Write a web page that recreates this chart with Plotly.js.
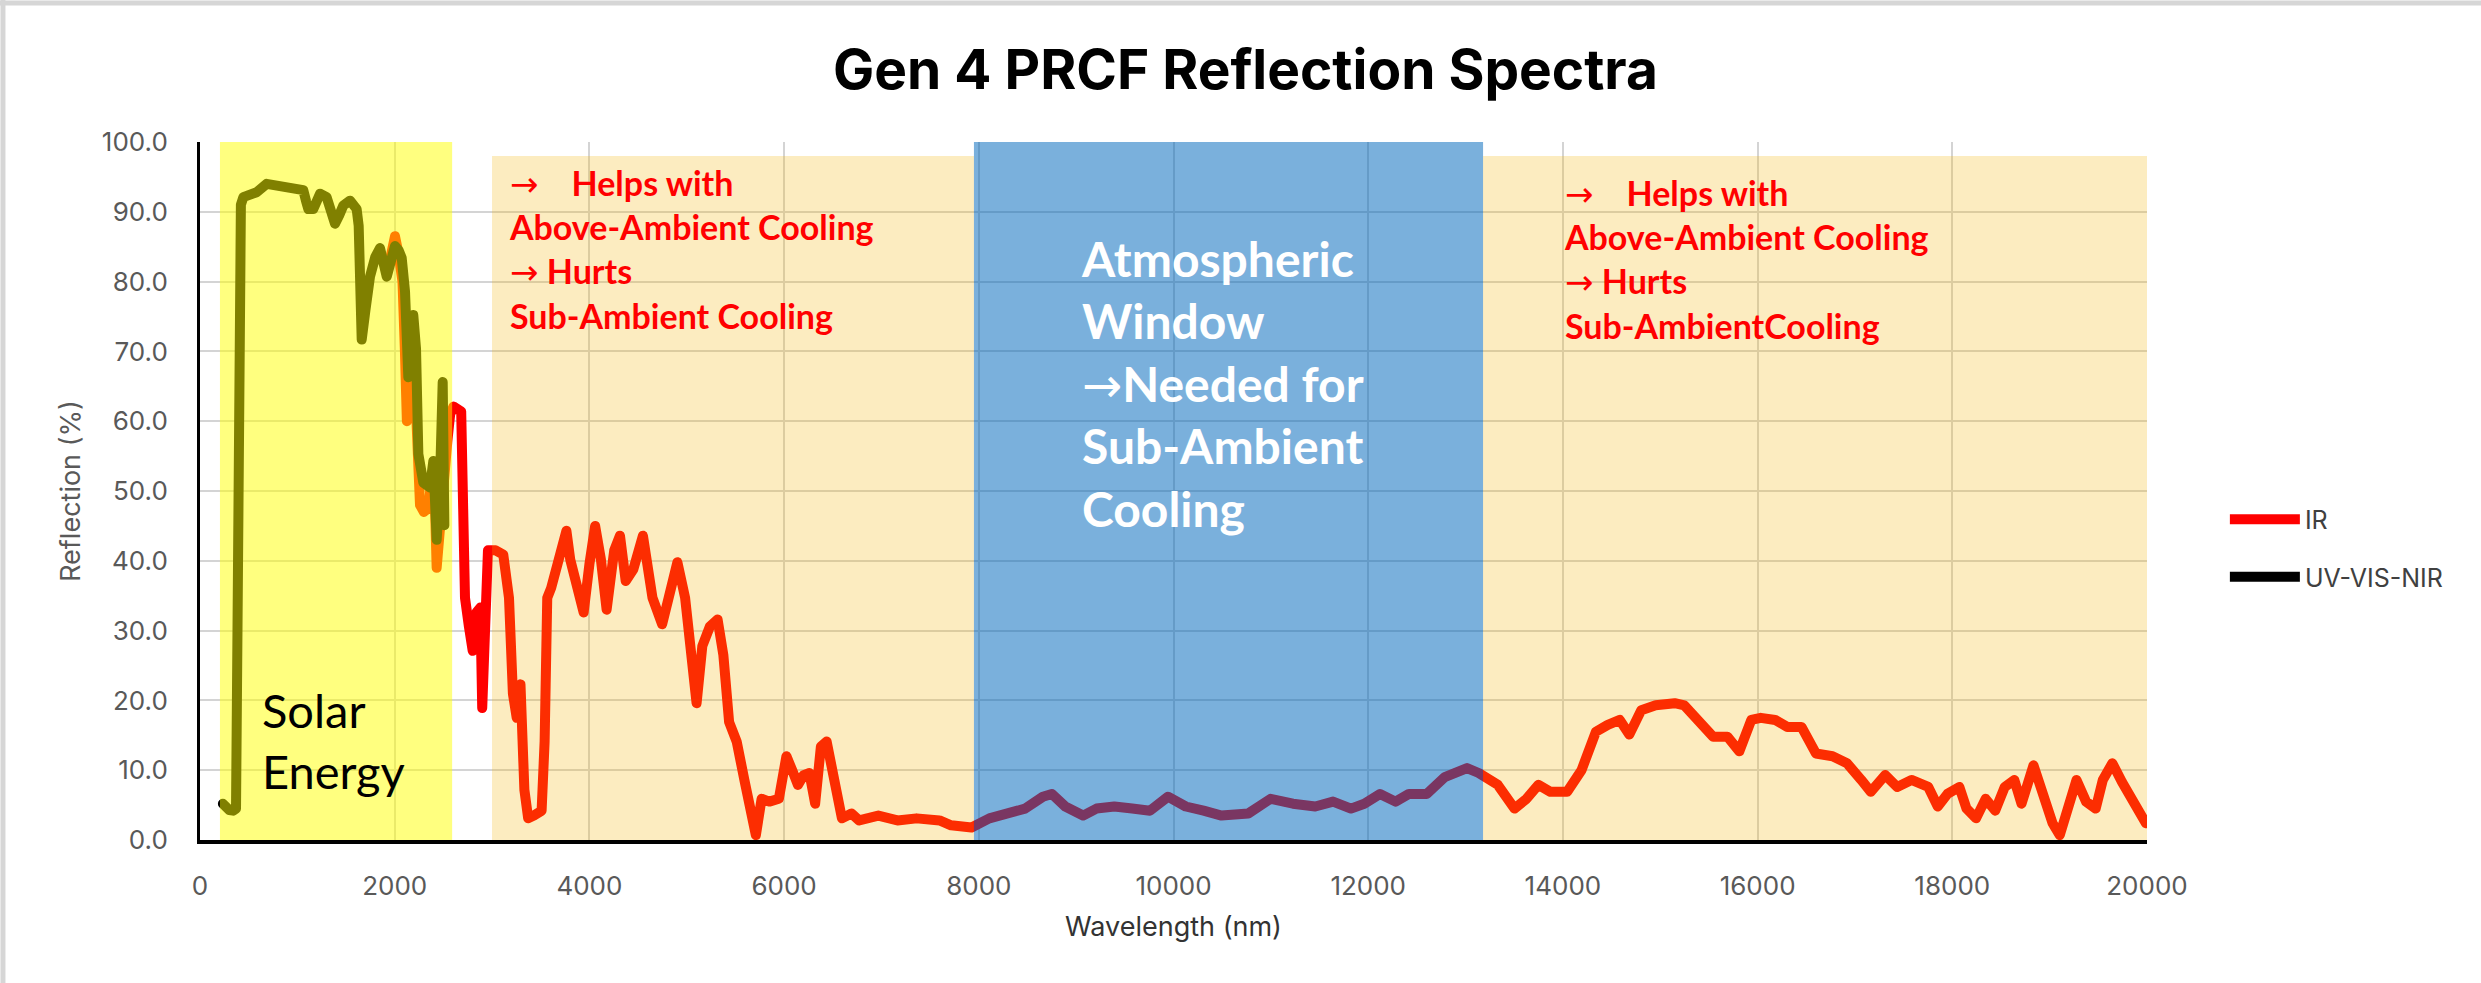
<!DOCTYPE html>
<html>
<head>
<meta charset="utf-8">
<script src="https://cdn.plot.ly/plotly-3.0.1.min.js"></script>
<style>
html,body{margin:0;padding:0;background:#ffffff;}
#chart{width:2481px;height:983px;}
#chart .scatterlayer .js-line{stroke-linejoin:round;stroke-linecap:round;}
</style>
</head>
<body>
<div id="chart"></div>
<script>
// ---------- DATA ----------
const seriesNames = ['IR', 'UV-VIS-NIR'];

const uvWavelength = [235, 260, 300, 340, 370, 385, 395, 405, 420, 445, 520, 582, 685, 822, 959, 1061, 1090, 1113, 1164, 1200, 1233, 1301, 1340, 1387, 1430, 1472, 1541, 1609, 1630, 1650, 1661, 1700, 1746, 1800, 1849, 1918, 1960, 2003, 2040, 2072, 2106, 2140, 2170, 2191, 2219, 2243, 2294, 2362, 2397, 2431, 2465, 2493, 2510];
const uvReflection = [5.2, 4.6, 4.3, 4.2, 4.5, 30, 70, 88, 91, 92.1, 92.5, 92.8, 94, 93.7, 93.4, 93.1, 91.5, 90.4, 90.4, 91.8, 92.6, 92.1, 90, 88.3, 89.5, 90.9, 91.6, 90.4, 88, 78, 71.7, 76, 80.7, 83.5, 84.8, 80.7, 82.5, 85.1, 84.5, 83.4, 78.6, 66.3, 70, 75.2, 70.4, 55.3, 51.2, 50.5, 54.3, 43, 51.2, 65.6, 45.1];

const irWavelength = [1950, 2003, 2040, 2080, 2105, 2125, 2150, 2180, 2200, 2225, 2260, 2300, 2345, 2380, 2410, 2431, 2460, 2500, 2540, 2570, 2604, 2683, 2722, 2762, 2801, 2840, 2880, 2899, 2927, 2958,
  3037, 3115, 3174, 3214, 3253, 3292, 3332, 3371, 3430, 3509, 3540, 3567, 3607, 3705, 3764, 3803, 3882, 3941, 4000, 4059, 4118, 4177, 4255, 4314, 4373, 4452, 4550, 4648, 4747, 4806, 4904, 4983, 5042, 5101, 5160, 5238, 5317, 5376, 5435, 5513, 5592, 5671, 5710, 5769, 5848, 5946, 6024, 6083, 6142, 6201, 6260, 6319, 6378, 6437, 6516, 6594, 6692, 6771, 6968, 7164, 7361, 7597, 7715, 7833, 7925,
  8108, 8338, 8475, 8658, 8750, 8888, 9071, 9209, 9392, 9576, 9759, 9943, 10126, 10309, 10493, 10768, 10997, 11227, 11456, 11639, 11823, 11960, 12121, 12281, 12419, 12602, 12786, 13015,
  13135, 13331, 13503, 13626, 13749, 13872, 14044, 14191, 14339, 14461, 14584, 14682, 14805, 14953, 15149, 15247, 15395, 15542, 15690, 15812, 15935, 16033, 16181, 16304, 16451, 16599, 16770, 16918, 17065, 17163, 17311, 17434, 17581, 17753, 17851, 17950, 18072, 18146, 18244, 18342, 18441, 18539, 18637, 18711, 18834, 18932, 19030, 19104, 19178, 19276, 19374, 19473, 19546, 19644, 19743, 19866, 19989];
const irReflection = [83, 86.5, 84, 80, 70, 60, 62, 72, 68, 58, 48, 47, 47.5, 52, 50, 39, 45, 52, 57, 61, 62.1, 61.4, 34.7, 30.6, 27.1, 32.6, 33.3, 18.9, 34.7, 41.5,
  41.5, 40.9, 34.7, 21, 17.5, 22.3, 7.2, 3.1, 3.5, 4.2, 14.1, 34.7, 36.1, 42.2, 44.3, 40.2, 35.4, 32.6, 39.5, 45, 40.2, 33, 41.5, 43.6, 37.1, 38.8, 43.6, 34.7, 30.9, 34.7, 39.8, 34.7, 25.8, 19.6, 27.8, 30.6, 31.6, 26.5, 16.9, 14.1, 8.6, 3.1, 0.7, 5.9, 5.5, 5.9, 12.0, 10, 7.9, 9.3, 9.6, 5.2, 13.4, 14.1, 7.9, 3.1, 3.8, 2.8, 3.5, 2.8, 3.1, 2.8, 2.1, 1.8, 1.8,
  3.1, 3.8, 4.5, 6.2, 6.6, 4.8, 3.5, 4.5, 4.8, 4.5, 4.2, 6.2, 4.8, 4.2, 3.5, 3.8, 5.9, 5.2, 4.8, 5.5, 4.5, 5.2, 6.6, 5.5, 6.6, 6.6, 9, 10.3,
  9.6, 7.9, 4.5, 5.9, 7.9, 6.9, 6.9, 10.0, 15.5, 16.5, 17.2, 15.1, 18.6, 19.3, 19.6, 19.3, 17.2, 14.8, 14.8, 12.7, 17.2, 17.5, 17.2, 16.2, 16.2, 12.4, 12.0, 11.0, 8.6, 6.9, 9.3, 7.6, 8.6, 7.6, 4.8, 6.6, 7.6, 4.5, 3.1, 5.9, 4.2, 7.6, 8.6, 5.2, 10.7, 5.9, 2.4, 0.7, 4.5, 8.6, 5.5, 4.5, 8.6, 11.0, 8.3, 5.5, 2.4];

const xTickVals = [0, 2000, 4000, 6000, 8000, 10000, 12000, 14000, 16000, 18000, 20000];
const xTickText = ['0', '2000', '4000', '6000', '8000', '10000', '12000', '14000', '16000', '18000', '20000'];
const yTickVals = [0, 10, 20, 30, 40, 50, 60, 70, 80, 90, 100];
const yTickText = ['0.0', '10.0', '20.0', '30.0', '40.0', '50.0', '60.0', '70.0', '80.0', '90.0', '100.0'];

// spectral bands (nm) and their upper bound (%)
const bandStart = [205, 3000, 7950, 13180];
const bandEnd = [2590, 7950, 13180, 20000];
const bandTop = [100, 98, 100, 98];

const ARROW = '<span style="font-family:\'DejaVu Sans\';font-weight:normal">\u2192</span>';
const solarLabel = 'Solar<br>Energy';
const windowLabel = 'Atmospheric<br>Window<br>' + ARROW + 'Needed for<br>Sub-Ambient<br>Cooling';
const leftNote = ARROW + '\u00a0\u00a0\u00a0\u00a0Helps with<br>Above-Ambient Cooling<br>' + ARROW + ' Hurts<br>Sub-Ambient Cooling';
const rightNote = ARROW + '\u00a0\u00a0\u00a0\u00a0Helps with<br>Above-Ambient Cooling<br>' + ARROW + ' Hurts<br>Sub-AmbientCooling';

// ---------- CHART ----------
const FONT = 'Inter, Roboto, "Noto Sans", sans-serif';
const LABELFONT = 'Lato, "Noto Sans", sans-serif';

const traces = [
  {
    x: irWavelength, y: irReflection, name: seriesNames[0], type: 'scatter', mode: 'lines',
    line: {color: '#ff0000', width: 10}, legendgroup: 'ir'
  },
  {
    x: uvWavelength, y: uvReflection, name: seriesNames[1], type: 'scatter', mode: 'lines',
    line: {color: '#000000', width: 10}, legendgroup: 'uv'
  }
];

const bandFills = ['rgba(255,255,0,0.5)', 'rgba(243,179,3,0.25)', 'rgba(0,104,188,0.52)', 'rgba(243,179,3,0.25)'];
const shapes = bandStart.map((s, i) => ({
  type: 'rect', xref: 'x', yref: 'y', x0: s, x1: bandEnd[i], y0: 0, y1: bandTop[i],
  fillcolor: bandFills[i], line: {width: 0}, layer: 'above'
}));
// faint outer frame of the picture
shapes.push({type: 'line', xref: 'paper', yref: 'paper', x0: -0.1012, x1: -0.1012, y0: -0.21, y1: 1.205, line: {color: '#d6d6d6', width: 5}, layer: 'below'});
shapes.push({type: 'line', xref: 'paper', yref: 'paper', x0: -0.103, x1: 1.18, y0: 1.199, y1: 1.199, line: {color: '#d6d6d6', width: 5}, layer: 'below'});

const annotations = [
  {x: 620, y: 14.3, xref: 'x', yref: 'y', text: solarLabel, showarrow: false, xanchor: 'left', yanchor: 'middle', align: 'left',
   font: {family: LABELFONT, size: 47, color: '#000000'}},
  {x: 3154, y: 84.6, xref: 'x', yref: 'y', text: leftNote, showarrow: false, xanchor: 'left', yanchor: 'middle', align: 'left',
   font: {family: LABELFONT, size: 34, color: '#ff0000', weight: 700}},
  {x: 13990, y: 83.2, xref: 'x', yref: 'y', text: rightNote, showarrow: false, xanchor: 'left', yanchor: 'middle', align: 'left',
   font: {family: LABELFONT, size: 34, color: '#ff0000', weight: 700}},
  {x: 9025, y: 65.4, xref: 'x', yref: 'y', text: windowLabel, showarrow: false, xanchor: 'left', yanchor: 'middle', align: 'left',
   font: {family: LABELFONT, size: 48, color: '#ffffff', weight: 700}}
];

const layout = {
  width: 2481, height: 983,
  margin: {l: 200, r: 334, t: 142, b: 143, pad: 0},
  paper_bgcolor: '#ffffff', plot_bgcolor: '#ffffff',
  title: {text: 'Gen 4 PRCF Reflection Spectra', x: 0.502, xanchor: 'center', xref: 'container',
          y: 0.929, yanchor: 'middle', yref: 'container',
          font: {family: FONT, size: 55, color: '#000000', weight: 700}},
  xaxis: {
    range: [0, 20000], tickvals: xTickVals, ticktext: xTickText,
    showgrid: true, gridcolor: '#d4d4d4', gridwidth: 2, zeroline: false,
    showline: true, linecolor: '#000000', linewidth: 4,
    ticks: '', ticklabelstandoff: 20,
    tickfont: {family: FONT, size: 26, color: '#595959'},
    title: {text: 'Wavelength (nm)', standoff: 18, font: {family: FONT, size: 27, color: '#333333'}},
    automargin: false, fixedrange: true
  },
  yaxis: {
    range: [0, 100], tickvals: yTickVals, ticktext: yTickText,
    showgrid: true, gridcolor: '#d4d4d4', gridwidth: 2, zeroline: false,
    showline: true, linecolor: '#000000', linewidth: 3,
    ticks: '', ticklabelstandoff: 24,
    tickfont: {family: FONT, size: 26, color: '#595959'},
    title: {text: 'Reflection (%)', standoff: 14, font: {family: FONT, size: 27, color: '#595959'}},
    automargin: false, fixedrange: true
  },
  showlegend: true,
  legend: {x: 1.04, xanchor: 'left', y: 0.492, yanchor: 'top', bgcolor: 'rgba(0,0,0,0)',
           traceorder: 'grouped', tracegroupgap: 22, itemwidth: 70,
           font: {family: FONT, size: 25, color: '#404040'}},
  shapes: shapes,
  annotations: annotations
};

Plotly.newPlot('chart', traces, layout, {displayModeBar: false, staticPlot: true});
</script>
</body>
</html>
